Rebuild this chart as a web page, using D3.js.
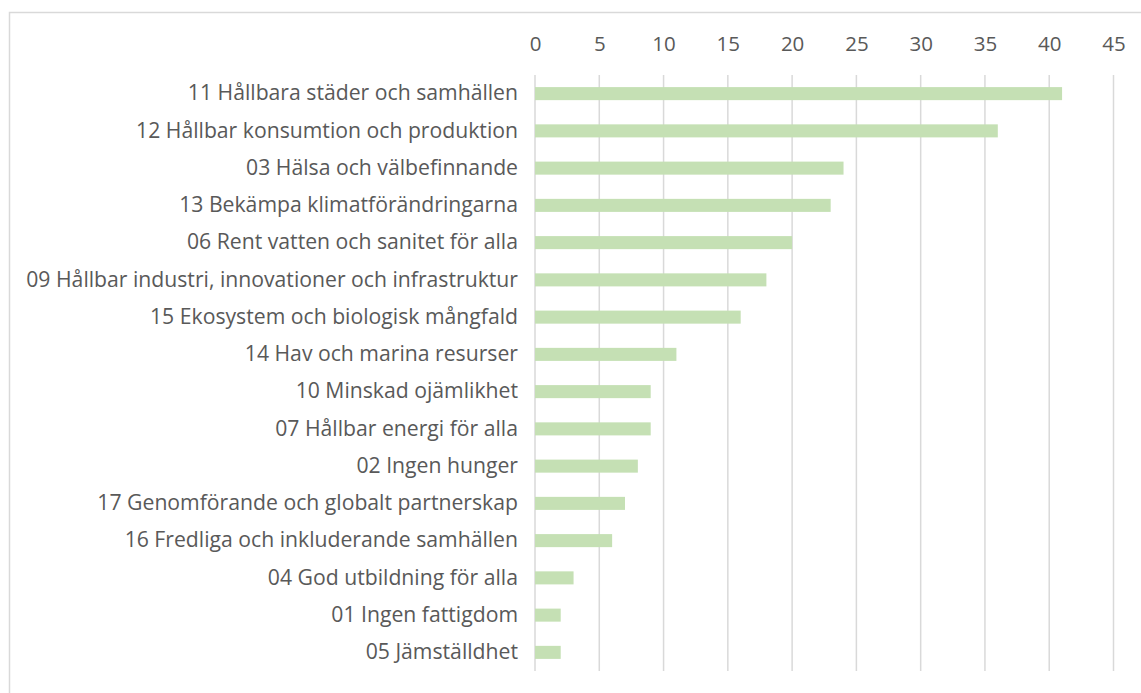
<!DOCTYPE html>
<html><head><meta charset="utf-8">
<script src="https://cdn.jsdelivr.net/npm/d3@7"></script>
<style>body{margin:0;background:#fff;} svg{display:block;}</style>
</head><body>
<svg id="c" width="1141" height="693"></svg>
<script>
const categories = [
  "11 Hållbara städer och samhällen",
  "12 Hållbar konsumtion och produktion",
  "03 Hälsa och välbefinnande",
  "13 Bekämpa klimatförändringarna",
  "06 Rent vatten och sanitet för alla",
  "09 Hållbar industri, innovationer och infrastruktur",
  "15 Ekosystem och biologisk mångfald",
  "14 Hav och marina resurser",
  "10 Minskad ojämlikhet",
  "07 Hållbar energi för alla",
  "02 Ingen hunger",
  "17 Genomförande och globalt partnerskap",
  "16 Fredliga och inkluderande samhällen",
  "04 God utbildning för alla",
  "01 Ingen fattigdom",
  "05 Jämställdhet"
];
const values = [41, 36, 24, 23, 20, 18, 16, 11, 9, 9, 8, 7, 6, 3, 2, 2];
const tickValues = [0, 5, 10, 15, 20, 25, 30, 35, 40, 45];

const svg = d3.select("#c");
const font = "'Open Sans', 'Noto Sans', sans-serif";
// chart border (top & left visible)
svg.append("path").attr("d", "M9.5,693 V12.5 H1141").attr("fill", "none").attr("stroke", "#d9d9d9").attr("stroke-width", 1.5);

const x = d3.scaleLinear().domain([0, 45]).range([535, 1113.5]);
const y = d3.scaleBand().domain(categories).range([75, 671]).paddingInner(0.65).paddingOuter(0.325);

// gridlines
svg.append("g").selectAll("line").data(tickValues).join("line")
  .attr("x1", d => x(d)).attr("x2", d => x(d)).attr("y1", 75).attr("y2", 671)
  .attr("stroke", "#d9d9d9").attr("stroke-width", 1.5);

// bars
svg.append("g").selectAll("rect").data(values).join("rect")
  .attr("x", x(0)).attr("y", (d, i) => y(categories[i]))
  .attr("width", d => x(d) - x(0)).attr("height", y.bandwidth())
  .attr("fill", "#C5E0B4");

// top axis
const ax = svg.append("g").attr("transform", "translate(0,51)")
  .call(d3.axisTop(x).tickValues(tickValues).tickSize(0).tickPadding(0));
ax.select(".domain").remove();
ax.selectAll("text").attr("font-family", font).attr("font-size", 20.5).attr("fill", "#595959").attr("dy", "0");

// category axis
const ay = svg.append("g").attr("transform", "translate(518,0)")
  .call(d3.axisLeft(y).tickSize(0).tickPadding(0));
ay.select(".domain").remove();
ay.selectAll("text").attr("font-family", font).attr("font-size", 21.2).attr("fill", "#595959");
</script>
</body></html>
